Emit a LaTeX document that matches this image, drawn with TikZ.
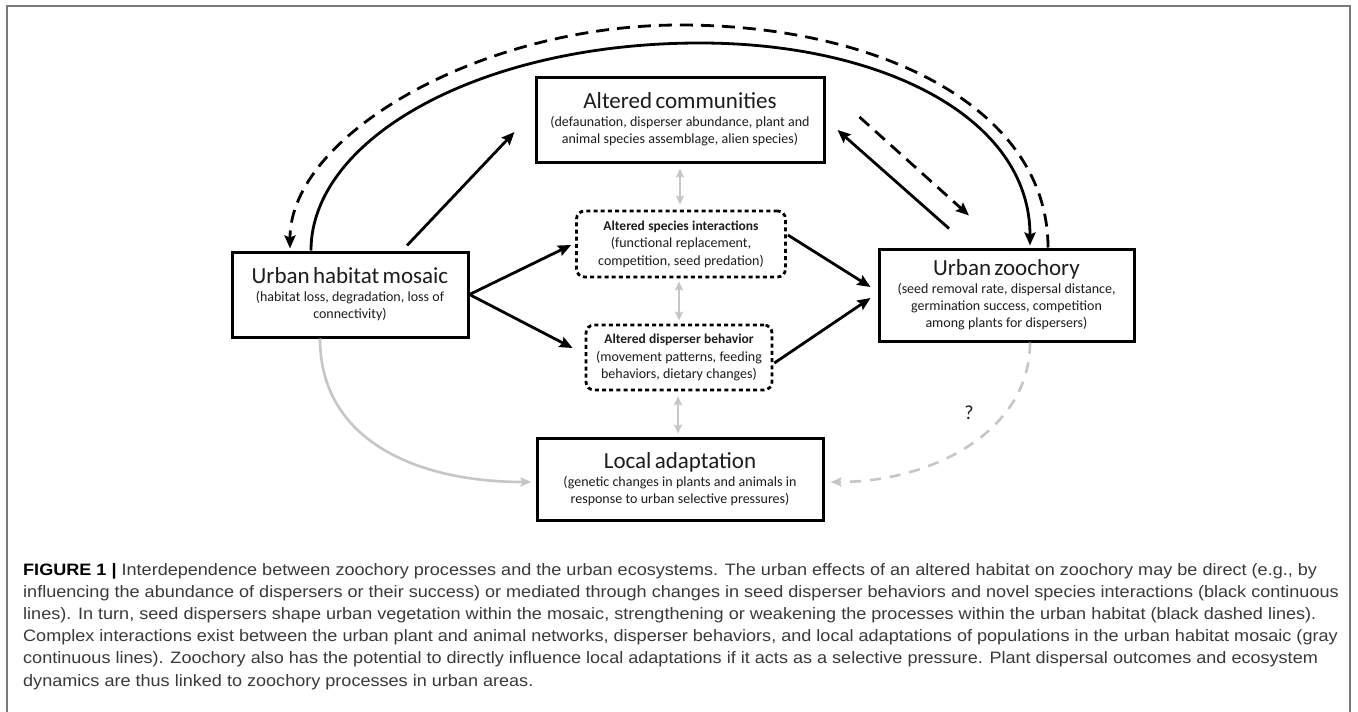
\documentclass[tikz,border=0pt]{standalone}
\usepackage{fontspec}
\setmainfont{Carlito}
\newfontfamily\capfont[FakeStretch=1.095]{Liberation Sans}
\usetikzlibrary{arrows.meta,calc}
\definecolor{framegray}{HTML}{7A7A7A}
\definecolor{lightg}{HTML}{C6C6C6}
\definecolor{captxt}{HTML}{3A3A3A}
\definecolor{ink}{HTML}{1C1C1C}
\newcommand{\ttl}{\fontsize{23}{26}\selectfont}
\newcommand{\sbt}{\fontsize{14}{17}\selectfont}
\newcommand{\dttl}{\fontsize{13.5}{17.5}\selectfont\bfseries}
\newcommand{\dsb}{\fontsize{14}{17.5}\selectfont}
\begin{document}
\begin{tikzpicture}[x=1pt,y=-1pt,
  box/.style={draw=black, line width=3pt, inner xsep=0pt, inner ysep=0pt, align=center, text=ink},
  dotbox/.style={draw=black, line width=2.8pt, dash pattern=on 4pt off 3.2pt, rounded corners=8pt, inner xsep=0pt, inner ysep=0pt, align=center, text=ink},
  arr/.style={line width=2.8pt, -{Stealth[length=13pt,width=11pt,inset=2pt]}},
  darr/.style={arr, dash pattern=on 13pt off 8pt},
  garr/.style={lightg, line width=2.6pt, -{Stealth[length=11pt,width=9pt,inset=2pt]}},
  gdarr/.style={garr, dash pattern=on 11pt off 9pt},
  gdbl/.style={lightg, line width=2.4pt, {Stealth[length=9pt,width=8pt,inset=1.5pt]}-{Stealth[length=9pt,width=8pt,inset=1.5pt]}}
]
\fill[white] (0,0) rectangle (1358,712);
\useasboundingbox (0,0) rectangle (1358,712);
\draw[framegray, line width=1.5pt] (7,720) -- (7,6) -- (1350,6) -- (1350,720);

% boxes
\node[box, text width=288pt, minimum height=85pt] (com) at (680,119.5)
  {{\ttl Altered communities\par}\vspace{1pt}{\sbt (defaunation, disperser abundance, plant and\\ animal species assemblage, alien species)\par}};
\node[box, text width=236pt, minimum height=85pt] (hab) at (350,294.5)
  {{\ttl Urban habitat mosaic\par}\vspace{1pt}{\sbt (habitat loss, degradation, loss of\\ connectivity)\par}};
\node[box, text width=255pt, minimum height=92pt] (zoo) at (1006.5,295)
  {{\ttl Urban zoochory\par}\vspace{1pt}{\sbt (seed removal rate, dispersal distance,\\ germination success, competition\\ among plants for dispersers)\par}};
\node[box, text width=286pt, minimum height=82pt] (loc) at (680,479)
  {{\ttl Local adaptation\par}\vspace{1pt}{\sbt (genetic changes in plants and animals in\\ response to urban selective pressures)\par}};
\node[dotbox, text width=209pt, minimum height=66pt] (spe) at (681,244)
  {{\dttl Altered species interactions\par}{\dsb (functional replacement,\\ competition, seed predation)\par}};
\node[dotbox, text width=186pt, minimum height=65pt] (dis) at (679,357.5)
  {{\dttl Altered disperser behavior\par}{\dsb (movement patterns, feeding\\ behaviors, dietary changes)\par}};

% big arcs
\draw[arr] ($(hab.north)+(-39,0)$) .. controls +(0,-112) and +(-220,0) .. (700,43)
  .. controls +(180,0) and +(0,-129) .. ($(zoo.north)+(23.5,-2)$);
\draw[darr] ($(zoo.north)+(41.5,0)$) .. controls +(0,-139) and +(200,0) .. (680,25)
  .. controls +(-200,0) and +(0,-113) .. ($(hab.north)+(-60,-2)$);

% straight black arrows
\draw[arr] ($(hab.north)+(57,-5)$) -- ($(com.west)+(-20,12.5)$);
\draw[arr] ($(zoo.north)+(-57.5,-19)$) -- ($(com.east)+(12,10.5)$);
\draw[darr] ($(com.east)+(34,-2.5)$) -- ($(zoo.north)+(-37.5,-32)$);
\draw[arr] (hab.east) -- ($(spe.west)+(-4,1)$);
\draw[arr] (hab.east) -- ($(dis.west)+(-12,-9.5)$);
\draw[arr] ($(spe.east)+(1,-9)$) -- ($(zoo.west)+(-7,-8)$);
\draw[arr] ($(dis.east)+(1,5.5)$) -- ($(zoo.west)+(-7,3)$);

% gray connectors
\draw[gdbl] ($(com.south)+(0,5)$) -- ($(com.south |- spe.north)+(0,-5)$);
\draw[gdbl] ($(spe.south)+(-2,3)$) -- ($(spe.south |- dis.north)+(-2,-3)$);
\draw[gdbl] ($(dis.south)+(-1,5)$) -- ($(dis.south |- loc.north)+(-1,-3)$);
\draw[garr] ($(hab.south)+(-30,0)$) .. controls +(0,103) and +(-113,0) .. ($(loc.west)+(-4,3)$);
\draw[gdarr] ($(zoo.south)+(23.5,0)$) .. controls +(0,89) and +(101,0) .. ($(loc.east)+(6,3)$);
\node[text=ink, font=\fontsize{20}{22}\selectfont] (q) at (969,413) {?};

% caption
\node[anchor=north west, inner sep=0pt, align=left, text=captxt,
      font=\capfont\fontsize{16.5}{22.2}\selectfont] (cap) at (23,563)
{{\color{black}\bfseries FIGURE 1 |} Interdependence between zoochory processes and the urban ecosystems. The urban effects of an altered habitat on zoochory may be direct (e.g., by\\
influencing the abundance of dispersers or their success) or mediated through changes in seed disperser behaviors and novel species interactions (black continuous\\
lines). In turn, seed dispersers shape urban vegetation within the mosaic, strengthening or weakening the processes within the urban habitat (black dashed lines).\\
Complex interactions exist between the urban plant and animal networks, disperser behaviors, and local adaptations of populations in the urban habitat mosaic (gray\\
continuous lines). Zoochory also has the potential to directly influence local adaptations if it acts as a selective pressure. Plant dispersal outcomes and ecosystem\\
dynamics are thus linked to zoochory processes in urban areas.};
\end{tikzpicture}
\end{document}
